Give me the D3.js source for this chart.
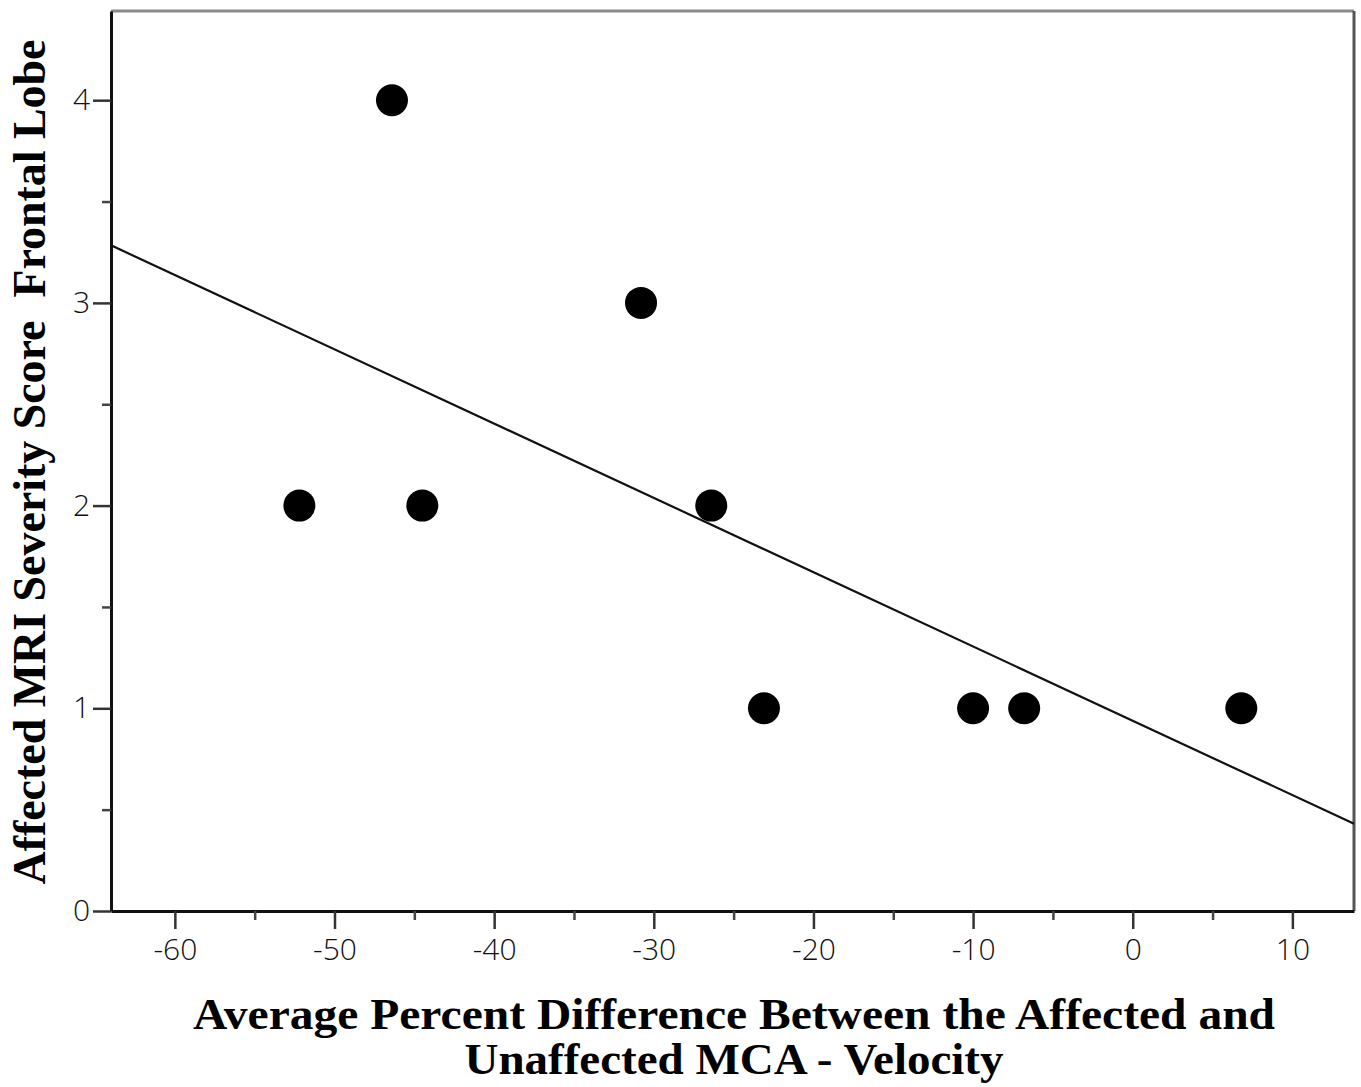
<!DOCTYPE html>
<html>
<head>
<meta charset="utf-8">
<script src="https://cdn.jsdelivr.net/npm/d3@7"></script>
<style>
  html, body { margin: 0; padding: 0; background: #fff; }
  svg { display: block; }
</style>
</head>
<body>
<svg id="chart" width="1361" height="1087"></svg>
<script>
// ---- data ----
const xValues = [-52.2, -46.4, -44.5, -30.8, -26.4, -23.1, -10.0, -6.8, 6.8];
const yValues = [2, 4, 2, 3, 2, 1, 1, 1, 1];
const xMajorTicks = [-60, -50, -40, -30, -20, -10, 0, 10];
const xMinorTicks = [-55, -45, -35, -25, -15, -5, 5];
const yMajorTicks = [0, 1, 2, 3, 4];
const yMinorTicks = [0.5, 1.5, 2.5, 3.5];
const xTitleLines = ["Average Percent Difference Between the Affected and", "Unaffected MCA - Velocity"];
const yTitle = "Affected MRI Severity Score  Frontal Lobe";

// ---- layout ----
const L = 111, R = 1354, T = 11, B = 911;
const svg = d3.select("#chart");
const x = d3.scaleLinear().domain([-64, 13.86]).range([L, R]);
const y = d3.scaleLinear().domain([0, 4.44]).range([B, T]);
const tickFont = "Open Sans, DejaVu Sans, sans-serif";

// frame (top and right borders grey)
svg.append("line").attr("x1", L).attr("x2", R).attr("y1", T).attr("y2", T)
  .attr("stroke", "#8a8a8a").attr("stroke-width", 3);
svg.append("line").attr("x1", R).attr("x2", R).attr("y1", T).attr("y2", B)
  .attr("stroke", "#555").attr("stroke-width", 3);

// clip
svg.append("clipPath").attr("id", "plotclip").append("rect")
  .attr("x", L).attr("y", T).attr("width", R - L).attr("height", B - T);

// regression line (least squares from data)
const mx = d3.mean(xValues), my = d3.mean(yValues);
let sxy = 0, sxx = 0;
xValues.forEach((v, i) => { sxy += (v - mx) * (yValues[i] - my); sxx += (v - mx) * (v - mx); });
const slope = sxy / sxx, intercept = my - slope * mx;
const [d0, d1] = x.domain();
svg.append("line")
  .attr("clip-path", "url(#plotclip)")
  .attr("x1", x(d0)).attr("y1", y(intercept + slope * d0))
  .attr("x2", x(d1)).attr("y2", y(intercept + slope * d1))
  .attr("stroke", "#111").attr("stroke-width", 2.2);

// points
svg.append("g").selectAll("circle")
  .data(xValues.map((v, i) => [v, yValues[i]]))
  .join("circle")
  .attr("cx", d => x(d[0])).attr("cy", d => y(d[1])).attr("r", 16)
  .attr("fill", "#000");

// x axis
const xAxis = svg.append("g").attr("transform", `translate(0,${B})`)
  .call(d3.axisBottom(x).tickValues(xMajorTicks).tickSize(18).tickSizeOuter(0).tickPadding(10)
    .tickFormat(d => d));
xAxis.select(".domain").attr("stroke", "#111").attr("stroke-width", 3);
xAxis.selectAll(".tick line").attr("stroke", "#333").attr("stroke-width", 2.5);
xAxis.selectAll(".tick text").attr("font-family", tickFont).attr("font-weight", 300)
  .attr("font-size", 30).attr("fill", "#111");
svg.append("g").attr("transform", `translate(0,${B})`)
  .call(d3.axisBottom(x).tickValues(xMinorTicks).tickSize(9).tickSizeOuter(0).tickFormat(""))
  .call(g => g.select(".domain").remove())
  .selectAll(".tick line").attr("stroke", "#444").attr("stroke-width", 2.5);

// y axis
const yAxis = svg.append("g").attr("transform", `translate(${L},0)`)
  .call(d3.axisLeft(y).tickValues(yMajorTicks).tickSize(18).tickSizeOuter(0).tickPadding(3)
    .tickFormat(d => d));
yAxis.select(".domain").attr("stroke", "#111").attr("stroke-width", 3);
yAxis.selectAll(".tick line").attr("stroke", "#333").attr("stroke-width", 2.5);
yAxis.selectAll(".tick text").attr("font-family", tickFont).attr("font-weight", 300)
  .attr("font-size", 30).attr("fill", "#111");
svg.append("g").attr("transform", `translate(${L},0)`)
  .call(d3.axisLeft(y).tickValues(yMinorTicks).tickSize(9).tickSizeOuter(0).tickFormat(""))
  .call(g => g.select(".domain").remove())
  .selectAll(".tick line").attr("stroke", "#444").attr("stroke-width", 2.5);

// x title
const xt = svg.append("text")
  .attr("font-family", "Liberation Serif, Times New Roman, serif")
  .attr("font-weight", "bold").attr("font-size", 44).attr("fill", "#000")
  .attr("text-anchor", "middle");
xt.append("tspan").attr("x", 734).attr("y", 1029).attr("textLength", 1082)
  .attr("lengthAdjust", "spacingAndGlyphs").text(xTitleLines[0]);
xt.append("tspan").attr("x", 734).attr("y", 1074).attr("textLength", 539)
  .attr("lengthAdjust", "spacingAndGlyphs").text(xTitleLines[1]);

// y title
svg.append("text")
  .attr("transform", "translate(45,462) rotate(-90)")
  .attr("font-family", "Liberation Serif, Times New Roman, serif")
  .attr("font-weight", "bold").attr("font-size", 46).attr("fill", "#000")
  .attr("text-anchor", "middle").attr("textLength", 845)
  .attr("lengthAdjust", "spacingAndGlyphs")
  .style("white-space", "pre")
  .text(yTitle);
</script>
</body>
</html>
